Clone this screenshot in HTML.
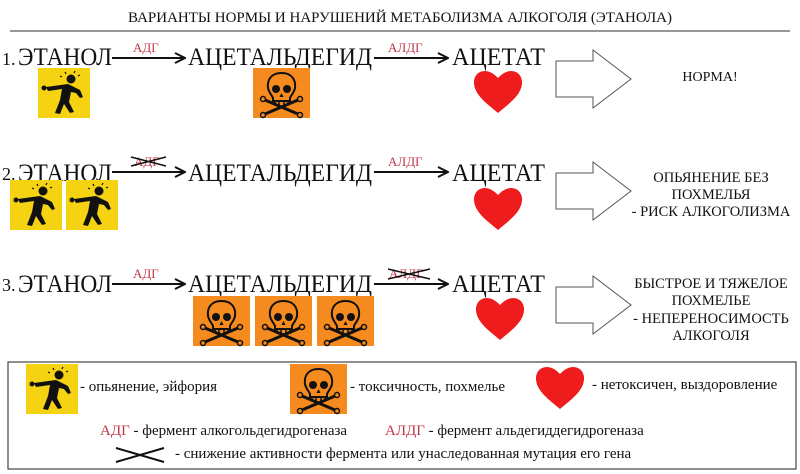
<!DOCTYPE html>
<html><head><meta charset="utf-8"><style>
html,body{margin:0;padding:0;background:#fff;width:800px;height:474px;overflow:hidden}
svg{display:block}
text{font-family:"Liberation Serif",serif}
</style></head><body>
<svg width="800" height="474" viewBox="0 0 800 474" xmlns="http://www.w3.org/2000/svg">
<defs>
<marker id="ah" markerWidth="12" markerHeight="12" refX="11" refY="6" orient="auto" markerUnits="userSpaceOnUse">
<path d="M1,1 L11,6 L1,11" fill="none" stroke="#111" stroke-width="2"/>
</marker>
<g id="man">
<rect x="0" y="0" width="52" height="50" fill="#f5d312"/>
<circle cx="33" cy="11" r="4.5" fill="#111"/>
<path d="M8,19 L30,16 L42,22 L45,29 L42,30 L38,25 L33,24 L31,34 L36,44 L32,45 L26,36 L22,46 L17,45 L22,32 L24,21 L10,23 Z" fill="#111"/>
<circle cx="6" cy="20" r="2.5" fill="#111"/>
<path d="M27,4 l1,2 M37,3 l-1,2 M40,8 l2,-1 M24,9 l-2,-1" stroke="#111" stroke-width="1.2"/>
</g>
<g id="skull">
<rect x="0" y="0" width="57" height="50" fill="#f58a1f"/>
<path d="M28.5,5 C18,5 14,12 15,20 C16,25 19,27 20,30 L20,33 L37,33 L37,30 C38,27 41,25 42,20 C43,12 39,5 28.5,5 Z" fill="none" stroke="#111" stroke-width="2"/>
<ellipse cx="23" cy="21" rx="4" ry="4" fill="#111"/>
<ellipse cx="34" cy="21" rx="4" ry="4" fill="#111"/>
<path d="M28.5,25 l-2,4 l4,0 Z" fill="#111"/>
<path d="M22,33 v4 M26,33 v4 M31,33 v4 M35,33 v4" stroke="#111" stroke-width="1.5"/>
<path d="M12,32 L45,46 M45,32 L12,46" stroke="#111" stroke-width="3"/>
<circle cx="10" cy="31" r="2.5" fill="none" stroke="#111" stroke-width="1.5"/>
<circle cx="47" cy="31" r="2.5" fill="none" stroke="#111" stroke-width="1.5"/>
<circle cx="10" cy="47" r="2.5" fill="none" stroke="#111" stroke-width="1.5"/>
<circle cx="47" cy="47" r="2.5" fill="none" stroke="#111" stroke-width="1.5"/>
</g>
<path id="heart" d="M25,45 C16,37 0,27 1,13 C2,3 14,-2 25,10 C36,-2 48,3 49,13 C50,27 34,37 25,45 Z" fill="#ee1c1c"/>
<path id="barrow" d="M0,11 L37,11 L37,0 L75,29 L37,58 L37,47 L0,47 Z" fill="#fff" stroke="#555" stroke-width="1"/>
</defs>

<text x="400" y="22" font-size="15" text-anchor="middle" fill="#111">ВАРИАНТЫ НОРМЫ И НАРУШЕНИЙ МЕТАБОЛИЗМА АЛКОГОЛЯ (ЭТАНОЛА)</text>
<line x1="10" y1="31" x2="790" y2="31" stroke="#777" stroke-width="1.5"/>

<!-- Row 1 -->
<text x="2" y="65" font-size="18" fill="#111">1.</text>
<text x="18" y="65" font-size="25" fill="#111" textLength="94" lengthAdjust="spacingAndGlyphs">ЭТАНОЛ</text>
<line x1="112" y1="58" x2="185" y2="58" stroke="#111" stroke-width="2" marker-end="url(#ah)"/>
<text x="133" y="52" font-size="13" fill="#c03848">АДГ</text>
<text x="188" y="65" font-size="25" fill="#111" textLength="184" lengthAdjust="spacingAndGlyphs">АЦЕТАЛЬДЕГИД</text>
<line x1="374" y1="58" x2="448" y2="58" stroke="#111" stroke-width="2" marker-end="url(#ah)"/>
<text x="388" y="52" font-size="13" fill="#c03848">АЛДГ</text>
<text x="452" y="65" font-size="25" fill="#111" textLength="93" lengthAdjust="spacingAndGlyphs">АЦЕТАТ</text>
<use href="#man" x="38" y="68"/>
<use href="#skull" x="253" y="68"/>
<use href="#heart" x="473" y="68"/>
<use href="#barrow" x="556" y="50"/>
<text x="710" y="81" font-size="14" text-anchor="middle" fill="#111">НОРМА!</text>

<!-- Row 2 -->
<text x="2" y="180" font-size="18" fill="#111">2.</text>
<text x="18" y="181" font-size="25" fill="#111" textLength="94" lengthAdjust="spacingAndGlyphs">ЭТАНОЛ</text>
<line x1="112" y1="172" x2="185" y2="172" stroke="#111" stroke-width="2" marker-end="url(#ah)"/>
<text x="134" y="166" font-size="13" fill="#c03848">АДГ</text>
<path d="M131,157 L166,166 M131,166 L166,157" stroke="#111" stroke-width="1.5"/>
<text x="188" y="181" font-size="25" fill="#111" textLength="184" lengthAdjust="spacingAndGlyphs">АЦЕТАЛЬДЕГИД</text>
<line x1="374" y1="172" x2="448" y2="172" stroke="#111" stroke-width="2" marker-end="url(#ah)"/>
<text x="388" y="166" font-size="13" fill="#c03848">АЛДГ</text>
<text x="452" y="181" font-size="25" fill="#111" textLength="93" lengthAdjust="spacingAndGlyphs">АЦЕТАТ</text>
<use href="#man" x="10" y="180"/>
<use href="#man" x="66" y="180"/>
<use href="#heart" x="473" y="185"/>
<use href="#barrow" x="556" y="162"/>
<text x="711" y="182" font-size="14.5" text-anchor="middle" fill="#111">ОПЬЯНЕНИЕ БЕЗ</text>
<text x="711" y="199" font-size="14.5" text-anchor="middle" fill="#111">ПОХМЕЛЬЯ</text>
<text x="711" y="216" font-size="14.5" text-anchor="middle" fill="#111">- РИСК АЛКОГОЛИЗМА</text>

<!-- Row 3 -->
<text x="2" y="291" font-size="18" fill="#111">3.</text>
<text x="18" y="292" font-size="25" fill="#111" textLength="94" lengthAdjust="spacingAndGlyphs">ЭТАНОЛ</text>
<line x1="112" y1="284" x2="185" y2="284" stroke="#111" stroke-width="2" marker-end="url(#ah)"/>
<text x="133" y="278" font-size="13" fill="#c03848">АДГ</text>
<text x="188" y="292" font-size="25" fill="#111" textLength="184" lengthAdjust="spacingAndGlyphs">АЦЕТАЛЬДЕГИД</text>
<line x1="374" y1="284" x2="448" y2="284" stroke="#111" stroke-width="2" marker-end="url(#ah)"/>
<text x="389" y="278" font-size="13" fill="#c03848">АЛДГ</text>
<path d="M388,269 L430,279 M388,279 L430,269" stroke="#111" stroke-width="1.5"/>
<text x="452" y="292" font-size="25" fill="#111" textLength="93" lengthAdjust="spacingAndGlyphs">АЦЕТАТ</text>
<use href="#skull" x="193" y="296"/>
<use href="#skull" x="255" y="296"/>
<use href="#skull" x="317" y="296"/>
<use href="#heart" x="475" y="295"/>
<use href="#barrow" x="556" y="276"/>
<text x="711" y="288" font-size="14.5" text-anchor="middle" fill="#111">БЫСТРОЕ И ТЯЖЕЛОЕ</text>
<text x="711" y="305" font-size="14.5" text-anchor="middle" fill="#111">ПОХМЕЛЬЕ</text>
<text x="711" y="323" font-size="14.5" text-anchor="middle" fill="#111">- НЕПЕРЕНОСИМОСТЬ</text>
<text x="711" y="340" font-size="14.5" text-anchor="middle" fill="#111">АЛКОГОЛЯ</text>

<!-- Legend -->
<rect x="8" y="362" width="788" height="107" fill="none" stroke="#444" stroke-width="1.2"/>
<use href="#man" x="26" y="364"/>
<text x="80" y="391" font-size="15" fill="#111">- опьянение, эйфория</text>
<use href="#skull" x="290" y="364"/>
<text x="350" y="391" font-size="15" fill="#111">- токсичность, похмелье</text>
<use href="#heart" x="535" y="364"/>
<text x="592" y="389" font-size="15" fill="#111">- нетоксичен, выздоровление</text>
<text x="100" y="435" font-size="15" fill="#111"><tspan fill="#c03848">АДГ</tspan> - фермент алкогольдегидрогеназа</text>
<text x="385" y="435" font-size="15" fill="#111"><tspan fill="#c03848">АЛДГ</tspan> - фермент альдегиддегидрогеназа</text>
<path d="M116,448 L164,462 M116,462 L164,448" stroke="#111" stroke-width="2"/>
<text x="175" y="458" font-size="15" fill="#111">- снижение активности фермента или унаследованная мутация его гена</text>
</svg>
</body></html>
